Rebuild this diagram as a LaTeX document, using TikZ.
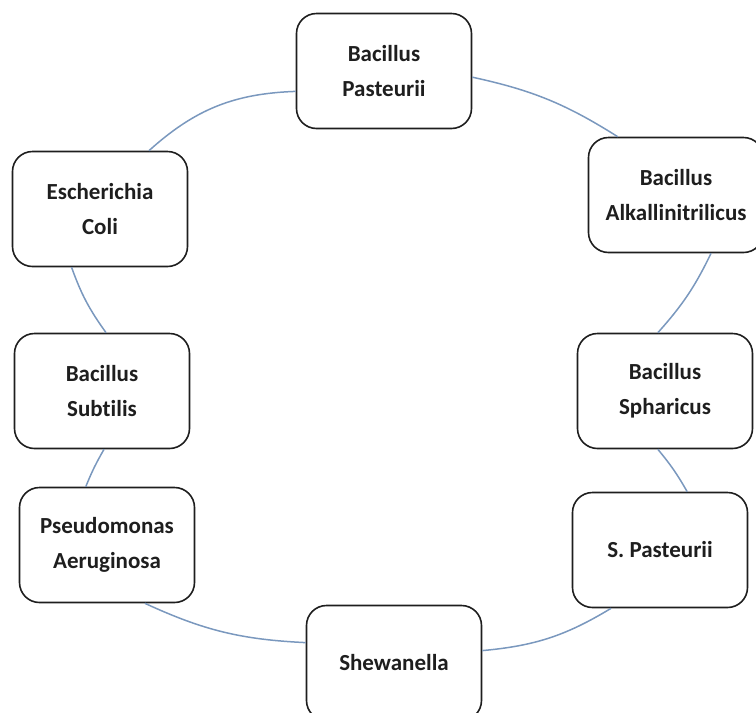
\documentclass[tikz,border=0pt]{standalone}
\usepackage{fontspec}
\setmainfont{Carlito}[Ligatures=NoCommon]
\definecolor{ring}{RGB}{122,152,190}
\definecolor{ink}{RGB}{30,30,30}
\begin{document}
\begin{tikzpicture}[x=1pt, y=-1pt,
    bug/.style={rectangle, rounded corners=20pt, draw=ink, line width=1.6pt, fill=white,
      minimum width=175pt, minimum height=115pt, align=center, text=ink,
      font=\fontsize{23}{35}\selectfont\bfseries},
    link/.style={draw=ring, line width=1.5pt}]
        \useasboundingbox (0,0) rectangle (756,713);

        \node[bug] at (384, 71)  (bpast)  {Bacillus\\Pasteurii};
        \node[bug] at (676, 195) (balk)   {Bacillus\\Alkallinitrilicus};
        \node[bug] at (665, 391) (bsph)   {Bacillus\\Spharicus};
        \node[bug] at (660, 550) (spast)  {S. Pasteurii};
        \node[bug] at (394, 663) (shew)   {Shewanella};
        \node[bug] at (107, 545) (pseudo) {Pseudomonas\\Aeruginosa};
        \node[bug] at (102, 391) (bsub)   {Bacillus\\Subtilis};
        \node[bug] at (100, 209) (ecoli)  {Escherichia\\Coli};

        \draw[link] (bpast.-4)   to[bend left=10] (balk.135);
        \draw[link] (balk.301)   to[bend left=8]  (bsph.97);
        \draw[link] (bsph.263)   to[bend left=5]  (spast.65);
        \draw[link] (spast.230)  to[bend left=13] (shew.8);
        \draw[link] (shew.167)   to[bend left=11] (pseudo.303);
        \draw[link] (pseudo.110) to[bend left=4]  (bsub.272);
        \draw[link] (bsub.86)    to[bend left=8]  (ecoli.244);
        \draw[link] (ecoli.50)   to[bend left=20] (bpast.193);
      \end{tikzpicture}
\end{document}
